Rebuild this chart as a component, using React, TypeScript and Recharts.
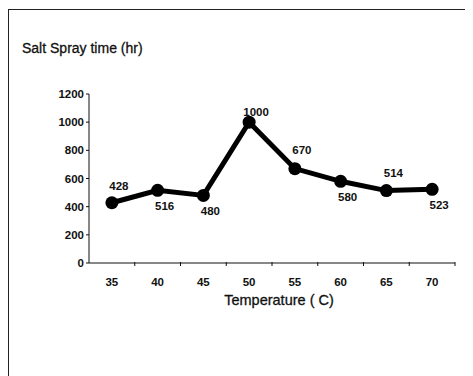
import { LineChart, Line, XAxis, YAxis, Label, LabelList } from 'recharts';

const temperatures = [35, 40, 45, 50, 55, 60, 65, 70];
const sprayHours = [428, 516, 480, 1000, 670, 580, 514, 523];
const yTicks = [0, 200, 400, 600, 800, 1000, 1200];
const halfStep = 2.5;

// vertical offset of each value label from its dot (negative = above)
const labelDy = [-17, 16, 16, -10, -19, 16, -18, 16];

const data = temperatures.map((t, i) => ({ temp: t, hours: sprayHours[i] }));
const xTicks = temperatures.flatMap((t) => [t, t + halfStep]);
const xDomain = [temperatures[0] - halfStep, temperatures[temperatures.length - 1] + halfStep];

const font = 'Arial, "Liberation Sans", sans-serif';

function PointLabel(props: any) {
    const { x, y, value, index } = props;
    return (
        <text
            x={x + 7}
            y={y + labelDy[index]}
            textAnchor="middle"
            dominantBaseline="central"
            fontSize={11.5}
            fontWeight="bold"
            fontFamily={font}
            fill="#111"
        >
            {value}
        </text>
    );
}

// category labels sit mid-band, tick marks sit on the band edges
function XTick(props: any) {
    const { x, y, payload } = props;
    if (!temperatures.includes(payload.value)) {
        return <line x1={x} x2={x} y1={y - 1} y2={y + 3} stroke="#111" />;
    }
    return (
        <text
            x={x}
            y={y + 19}
            textAnchor="middle"
            dominantBaseline="central"
            fontSize={11.5}
            fontWeight="bold"
            fontFamily={font}
            fill="#111"
        >
            {payload.value}
        </text>
    );
}

export default function App() {
    return (
        <div
            style={{
                position: 'relative',
                marginLeft: 0,
                marginTop: 1,
                width: 465,
                height: 366,
                borderTop: '1px solid #222',
                borderLeft: '1px solid #222',
                background: '#fff',
            }}
        >
            <div
                style={{
                    position: 'absolute',
                    left: 13,
                    top: 30,
                    fontFamily: font,
                    fontSize: 14,
                    color: '#111',
                    WebkitTextStroke: '0.3px #111',
                }}
            >
                Salt Spray time (hr)
            </div>
            <LineChart
                width={465}
                height={366}
                data={data}
                margin={{ top: 84, right: 19, left: 30, bottom: 63 }}
                style={{ fontFamily: font }}
            >
                <XAxis
                    dataKey="temp"
                    type="number"
                    domain={xDomain}
                    ticks={xTicks}
                    interval={0}
                    height={50}
                    axisLine={{ stroke: '#111' }}
                    tickLine={false}
                    tickSize={0}
                    tickMargin={0}
                    tick={<XTick />}
                >
                    <Label
                        value="Temperature ( C)"
                        position="insideBottom"
                        offset={8}
                        dx={7}
                        fill="#111"
                        stroke="#111"
                        strokeWidth={0.3}
                        fontSize={14.5}
                    />
                </XAxis>
                <YAxis
                    type="number"
                    domain={[0, 1200]}
                    ticks={yTicks}
                    width={50}
                    axisLine={{ stroke: '#111' }}
                    tickLine={{ stroke: '#111' }}
                    tickSize={3}
                    tickMargin={2}
                    tick={{ fill: '#111', fontSize: 11.5, fontWeight: 'bold' }}
                />
                <Line
                    dataKey="hours"
                    stroke="#000"
                    strokeWidth={5}
                    dot={{ r: 6.5, fill: '#000', stroke: '#000', strokeWidth: 0 }}
                    activeDot={false}
                    isAnimationActive={false}
                >
                    <LabelList dataKey="hours" content={PointLabel} />
                </Line>
            </LineChart>
        </div>
    );
}
